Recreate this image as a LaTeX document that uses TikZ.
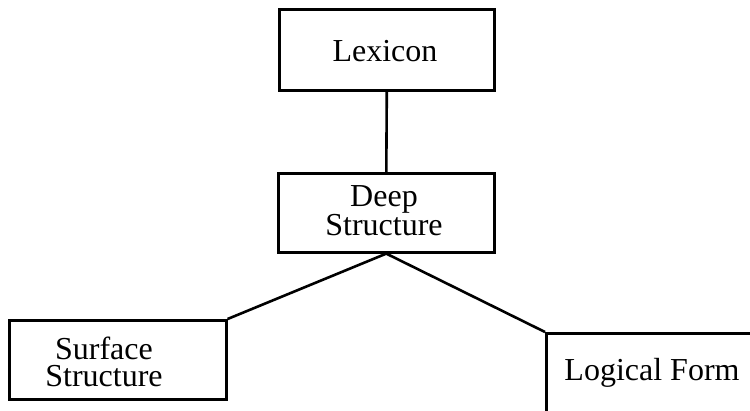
\documentclass[tikz,border=0pt]{standalone}
\usepackage{fontspec}
\setmainfont{Liberation Serif}
\begin{document}
\begin{tikzpicture}[x=1pt,y=-1pt,
  box/.style={draw,line width=2.6pt,inner sep=0pt,anchor=north west},
  lbl/.style={font=\fontsize{32}{27.5}\selectfont,align=center,inner sep=0pt},
  link/.style={line width=2.6pt}]
\clip (0,0) rectangle (750,410);
\useasboundingbox (0,0) rectangle (750,410);

% boxes
\node[box,minimum width=215pt,minimum height=81pt] (lex) at (278,8) {};
\node[box,minimum width=216pt,minimum height=79pt] (deep) at (277,172) {};
\node[box,minimum width=217pt,minimum height=79pt] (surf) at (8,319) {};
\node[box,minimum width=250pt,minimum height=120pt] (lf) at (545,332) {};

% labels
\node[lbl] (lexT) at (385,51) {Lexicon};
\node[lbl] (deepT) at (384,211) {Deep\\Structure};
\node[lbl] (surfT) at (104,362) {Surface\\Structure};
\node[lbl,anchor=base] (lfT) at (652,380) {Logical Form};

% connectors
\draw[link] (lex.south) -- (deep.north);
\draw[link] (surf.north east) -- (deep.south) -- (lf.north west);
\end{tikzpicture}
\end{document}
